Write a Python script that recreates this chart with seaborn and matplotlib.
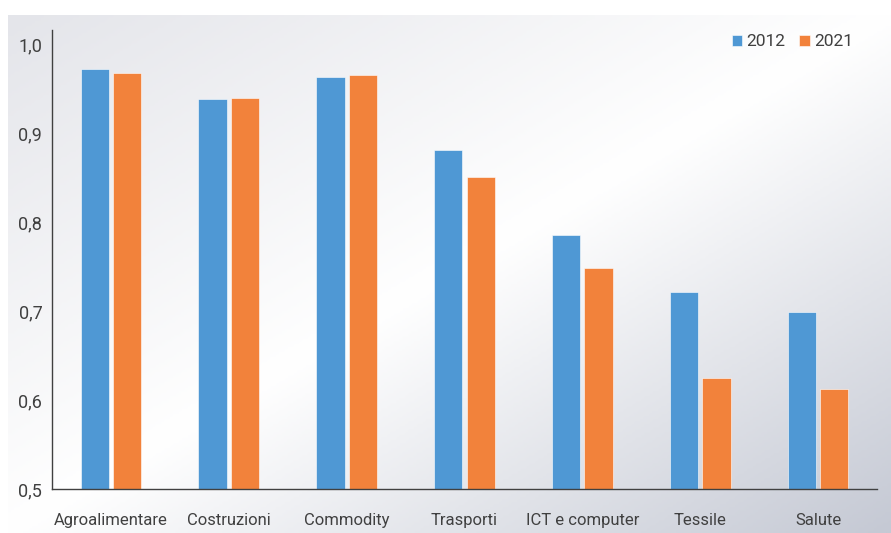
import numpy as np
import pandas as pd
import matplotlib.pyplot as plt
import seaborn as sns
from matplotlib.colors import LinearSegmentedColormap
from matplotlib.ticker import FuncFormatter

sns.set_style('white')
plt.rcParams['font.family'] = ['Roboto', 'DejaVu Sans']

# dati
settori = ['Agroalimentare', 'Costruzioni', 'Commodity', 'Trasporti',
           'ICT e computer', 'Tessile', 'Salute']
anni = ['2012', '2021']
valori_2012 = [0.972, 0.938, 0.963, 0.881, 0.785, 0.722, 0.699]
valori_2021 = [0.968, 0.939, 0.965, 0.851, 0.749, 0.625, 0.612]
y_ticks = [0.5, 0.6, 0.7, 0.8, 0.9, 1.0]

df = pd.DataFrame({
    'settore': settori * 2,
    'anno': [anni[0]] * len(settori) + [anni[1]] * len(settori),
    'valore': valori_2012 + valori_2021,
})

colori = {'2012': '#4f98d4', '2021': '#f2823b'}
testo = '#404040'

fig = plt.figure(figsize=(8.91, 5.33), dpi=100, facecolor='white')

# sfondo sfumato in diagonale
bg = fig.add_axes([8 / 891, 0, 883 / 891, 518 / 533], zorder=-5)
gx, gy = np.meshgrid(np.linspace(0, 1, 300), np.linspace(0, 1, 200))
t = (gx + gy) / 2
cmap = LinearSegmentedColormap.from_list('bg', ['#e4e5ea', '#ffffff', '#c5c9d4'])
bg.imshow(t, cmap=cmap, aspect='auto', extent=[0, 1, 0, 1], origin='upper')
bg.axis('off')

ax = fig.add_axes([52 / 891, 44 / 533, 825 / 891, 459 / 533])
ax.set_facecolor('none')

sns.barplot(data=df, x='settore', y='valore', hue='anno', order=settori,
            hue_order=anni, palette=colori, width=0.55, gap=0.13,
            saturation=1, edgecolor='white', linewidth=0.4, ax=ax)

ax.set_ylim(0.5, 1.016)
ax.set_xlim(-0.5, len(settori) - 0.5)
ax.set_yticks(y_ticks)
ax.yaxis.set_major_formatter(FuncFormatter(lambda v, p: f'{v:.1f}'.replace('.', ',')))
ax.tick_params(axis='both', length=0, colors=testo)
ax.tick_params(axis='x', pad=17, labelsize=12)
ax.tick_params(axis='y', pad=7, labelsize=13)
ax.set_xlabel('')
ax.set_ylabel('')

for s in ['top', 'right']:
    ax.spines[s].set_visible(False)
for s in ['left', 'bottom']:
    ax.spines[s].set_color('#404040')
    ax.spines[s].set_linewidth(1)

leg = ax.legend(loc='upper right', bbox_to_anchor=(0.99, 1.025), ncol=2,
                frameon=False, fontsize=12.5, handlelength=0.6, handleheight=0.6,
                handletextpad=0.25, columnspacing=0.8)
for txt in leg.get_texts():
    txt.set_color(testo)

fig.savefig('out.png', dpi=100)
